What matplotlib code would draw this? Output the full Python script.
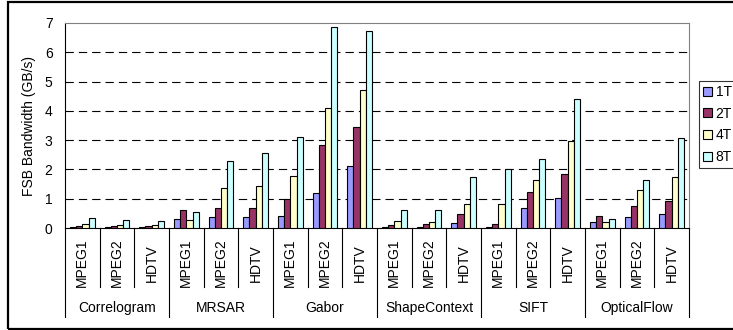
import numpy as np
import matplotlib
matplotlib.use('Agg')
import matplotlib.pyplot as plt
from matplotlib.transforms import blended_transform_factory
from matplotlib.patches import Rectangle

plt.rcParams['font.family'] = ['Liberation Sans', 'DejaVu Sans']

workloads = ['Correlogram', 'MRSAR', 'Gabor', 'ShapeContext', 'SIFT', 'OpticalFlow']
videos = ['MPEG1', 'MPEG2', 'HDTV']
threads = ['1T', '2T', '4T', '8T']

# FSB bandwidth (GB/s), one entry per workload/video pair
bw_1t = [0.02, 0.02, 0.03, 0.31, 0.375, 0.375, 0.41, 1.18, 2.11,
         0.03, 0.04, 0.17, 0.03, 0.67, 1.01, 0.22, 0.375, 0.48]
bw_2t = [0.07, 0.06, 0.07, 0.60, 0.70, 0.70, 0.98, 2.85, 3.44,
         0.09, 0.14, 0.48, 0.12, 1.22, 1.84, 0.41, 0.74, 0.91]
bw_4t = [0.15, 0.10, 0.10, 0.27, 1.375, 1.44, 1.77, 4.11, 4.72,
         0.25, 0.22, 0.81, 0.81, 1.64, 2.98, 0.22, 1.31, 1.73]
bw_8t = [0.34, 0.27, 0.24, 0.53, 2.30, 2.57, 3.11, 6.875, 6.72,
         0.60, 0.60, 1.74, 2.03, 2.36, 4.39, 0.31, 1.64, 3.09]

colors = ['#9999FF', '#993366', '#FFFFCC', '#CCFFFF']

fig = plt.figure(figsize=(7.33, 3.30), dpi=100)
ax = fig.add_axes([65 / 733, 102 / 330, 624 / 733, 205 / 330])

n = len(workloads) * len(videos)
x = np.arange(n)
w = 0.18
for k, (vals, c, lab) in enumerate(zip([bw_1t, bw_2t, bw_4t, bw_8t], colors, threads)):
    ax.bar(x + (k - 1.5) * w, vals, width=w, color=c, edgecolor='black',
           linewidth=0.8, label=lab, zorder=3)

ax.set_xlim(-0.5, n - 0.5)
ax.set_ylim(0, 7)
ax.set_yticks(range(8))
ax.tick_params(axis='y', length=0, pad=9, labelsize=10)
ax.set_xticks([])
for yv in range(1, 7):
    ax.axhline(yv, color='black', linewidth=0.8, dashes=(7.5, 4.5), zorder=1)

ax.spines['top'].set_color('#808080')
ax.spines['right'].set_color('#808080')
ax.spines['left'].set_color('black')
ax.spines['bottom'].set_color('black')

ax.set_ylabel('FSB Bandwidth (GB/s)', fontsize=10, labelpad=6)

# two-level category axis below the plot
trans = blended_transform_factory(ax.transData, ax.transAxes)
for i in range(n + 1):
    bottom = -0.434 if i % 3 == 0 else -0.29
    ax.plot([i - 0.5, i - 0.5], [0, bottom], color='black', linewidth=0.8,
            transform=trans, clip_on=False)
for i in range(n):
    ax.text(i, -0.17, videos[i % 3], rotation=90, ha='center', va='center',
            fontsize=10, transform=trans)
for j, name in enumerate(workloads):
    ax.text(3 * j + 1, -0.39, name, ha='center', va='center',
            fontsize=10, transform=trans)

leg = fig.legend(loc='upper left', bbox_to_anchor=(699 / 733, 1 - 81 / 330),
                 fontsize=10, frameon=True, fancybox=False, borderaxespad=0,
                 handlelength=0.6, handleheight=0.6, handletextpad=0.3,
                 labelspacing=0.55, borderpad=0.3)
leg.get_frame().set_edgecolor('black')
leg.get_frame().set_linewidth(0.8)

# outer chart border
fig.patches.append(Rectangle((8 / 733, 1 / 330), 1.0, 1 - 2.5 / 330,
                             transform=fig.transFigure, fill=False,
                             edgecolor='black', linewidth=1.6))

fig.savefig('out.png', dpi=100)
plt.close(fig)
